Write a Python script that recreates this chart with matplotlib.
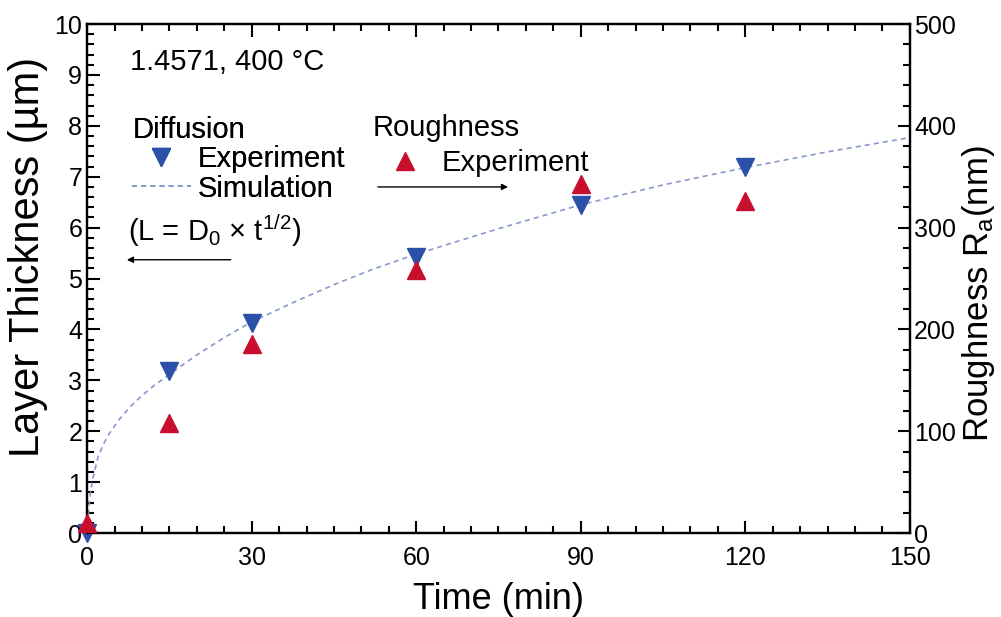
import matplotlib.pyplot as plt
from matplotlib.ticker import MultipleLocator

plt.rcParams['font.family'] = ['Liberation Sans', 'DejaVu Sans']
plt.rcParams['mathtext.fontset'] = 'custom'
plt.rcParams['mathtext.rm'] = 'Liberation Sans'
plt.rcParams['mathtext.it'] = 'Liberation Sans:italic'

# data
time_exp = [0, 15, 30, 60, 90, 120]
layer_thickness = [0.0, 3.18, 4.12, 5.43, 6.45, 7.2]      # um, left axis
roughness = [10, 108, 186, 258, 343, 326]                  # nm, right axis

# simulation curve (L = D0 x t^1/2)
time_sim = [0, 0.2, 0.5, 1, 2, 3, 4, 6, 8, 10, 12, 15, 20, 25, 30, 38, 45,
            52, 60, 75, 90, 105, 120, 135, 150]
thickness_sim = [0, 0.3, 0.7, 1.05, 1.5, 1.75, 1.95, 2.25, 2.5, 2.7, 2.88,
                 3.12, 3.5, 3.84, 4.15, 4.55, 4.88, 5.18, 5.48, 5.98, 6.45,
                 6.84, 7.18, 7.49, 7.77]

blue = '#2b50aa'
red = '#c8102e'

fig = plt.figure(figsize=(10.01, 6.17), dpi=100)
ax = fig.add_axes([0.087, 0.136, 0.822, 0.825])
ax2 = ax.twinx()

sim_line, = ax.plot(time_sim, thickness_sim, color='#8898cc', lw=1.2,
                    linestyle=(0, (3, 2.5)), zorder=2)
diff_pts, = ax.plot(time_exp, layer_thickness, 'v', color=blue, ms=13,
                    clip_on=False, zorder=4, linestyle='none')
rough_pts, = ax2.plot(time_exp, roughness, '^', color=red, ms=13,
                      clip_on=False, zorder=4, linestyle='none')

ax.set_xlim(0, 150)
ax.set_ylim(0, 10)
ax2.set_ylim(0, 500)

ax.xaxis.set_major_locator(MultipleLocator(30))
ax.xaxis.set_minor_locator(MultipleLocator(5))
ax.yaxis.set_major_locator(MultipleLocator(1))
ax.yaxis.set_minor_locator(MultipleLocator(0.2))
ax2.yaxis.set_major_locator(MultipleLocator(100))
ax2.yaxis.set_minor_locator(MultipleLocator(20))

for a in (ax, ax2):
    for s in a.spines.values():
        s.set_linewidth(1.6)
    a.tick_params(which='both', direction='in', width=1.5, labelsize=18)
    a.tick_params(which='major', length=9)
    a.tick_params(which='minor', length=5)
ax.tick_params(which='both', top=True, right=False)
ax.tick_params(axis='x', pad=9)
ax2.tick_params(which='both', right=True, left=False, pad=3)

ax.set_xlabel('Time (min)', fontsize=26, labelpad=9)
ax.set_ylabel('Layer Thickness (µm)', fontsize=30)
ax.yaxis.set_label_coords(-0.047, 0.542)
ax2.set_ylabel('Roughness R$\\mathregular{_a}$(nm)', fontsize=25)
ax2.yaxis.set_label_coords(1.061, 0.47)

ax.text(0.052, 0.925, '1.4571, 400 °C', transform=ax.transAxes, fontsize=21,
        va='center', ha='left')

leg1 = ax.legend([diff_pts, sim_line], ['Experiment', 'Simulation'],
                 title='Diffusion', loc='upper left', bbox_to_anchor=(0.03, 0.86),
                 frameon=False, fontsize=21, title_fontsize=21, alignment='left',
                 handlelength=2.0, handletextpad=0.25, labelspacing=0.05,
                 borderpad=0.2)
ax.add_artist(leg1)

ax.text(0.347, 0.795, 'Roughness', transform=ax.transAxes, fontsize=21,
        va='center', ha='left')
ax2.legend([rough_pts], ['Experiment'], loc='upper left',
           bbox_to_anchor=(0.3265, 0.794), frameon=False, fontsize=21,
           handlelength=2.0, handletextpad=0.25, borderpad=0.2)

ax.text(0.05, 0.595, '(L = D$_0$ × t$^{1/2}$)', transform=ax.transAxes,
        fontsize=21, va='center', ha='left')

ax.annotate('', xy=(0.045, 0.537), xytext=(0.178, 0.537), xycoords='axes fraction',
            arrowprops=dict(arrowstyle='-|>', color='black', lw=1.0,
                            mutation_scale=9))
ax.annotate('', xy=(0.515, 0.68), xytext=(0.35, 0.68), xycoords='axes fraction',
            arrowprops=dict(arrowstyle='-|>', color='black', lw=1.0,
                            mutation_scale=9))

fig.savefig('out.png', dpi=100)
